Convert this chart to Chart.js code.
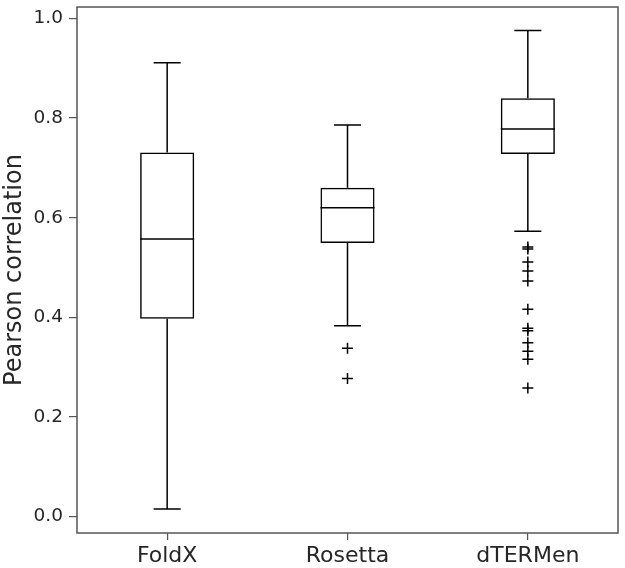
<!DOCTYPE html>
<html>
<head>
<meta charset="utf-8">
<script src="https://cdn.jsdelivr.net/npm/chart.js@4.4.1/dist/chart.umd.min.js"></script>
<style>
  html, body { margin: 0; padding: 0; background: #fff; }
  #wrap { width: 625px; height: 568px; }
</style>
</head>
<body>
<div id="wrap"><canvas id="box-chart"></canvas></div>
<script>
// data
const methods = ['FoldX', 'Rosetta', 'dTERMen'];
const whiskerLow = [0.015, 0.383, 0.573];
const q1 = [0.397, 0.549, 0.728];
const medians = [0.557, 0.620, 0.778];
const q3 = [0.731, 0.660, 0.840];
const whiskerHigh = [0.911, 0.786, 0.976];
const outliersRosetta = [0.338, 0.277];
const outliersDTERMen = [0.541, 0.537, 0.511, 0.493, 0.473, 0.416, 0.378, 0.373, 0.349, 0.332, 0.316, 0.258];
const yTicks = [0.0, 0.2, 0.4, 0.6, 0.8, 1.0];

const textColor = '#262626';
const axisColor = '#555555';

const outlierPoints = [];
outliersRosetta.forEach(v => outlierPoints.push({x: 'Rosetta', y: v}));
outliersDTERMen.forEach(v => outlierPoints.push({x: 'dTERMen', y: v}));

// whiskers, caps, medians and the frame drawn with the chart scales
const boxExtras = {
    id: 'boxExtras',
    afterDatasetsDraw(chart) {
        const c = chart.ctx;
        const xs = chart.scales.x;
        const ys = chart.scales.y;
        const bars = chart.getDatasetMeta(0).data;
        c.save();
        c.strokeStyle = '#000';
        c.lineWidth = 1.5;
        methods.forEach((m, i) => {
            const cx = xs.getPixelForValue(i);
            const half = bars[i].width / 2;
            const cap = half / 2;
            c.beginPath();
            c.moveTo(cx, ys.getPixelForValue(q3[i]));
            c.lineTo(cx, ys.getPixelForValue(whiskerHigh[i]));
            c.moveTo(cx - cap, ys.getPixelForValue(whiskerHigh[i]));
            c.lineTo(cx + cap, ys.getPixelForValue(whiskerHigh[i]));
            c.moveTo(cx, ys.getPixelForValue(q1[i]));
            c.lineTo(cx, ys.getPixelForValue(whiskerLow[i]));
            c.moveTo(cx - cap, ys.getPixelForValue(whiskerLow[i]));
            c.lineTo(cx + cap, ys.getPixelForValue(whiskerLow[i]));
            c.moveTo(cx - half, ys.getPixelForValue(medians[i]));
            c.lineTo(cx + half, ys.getPixelForValue(medians[i]));
            c.stroke();
        });
        const a = chart.chartArea;
        c.strokeStyle = axisColor;
        c.lineWidth = 1.5;
        c.strokeRect(a.left, a.top, a.right - a.left, a.bottom - a.top);
        c.restore();
    }
};

const config = {
    type: 'bar',
    data: {
        labels: methods,
        datasets: [
            {
                label: 'box',
                data: methods.map((m, i) => [q1[i], q3[i]]),
                backgroundColor: 'rgba(0,0,0,0)',
                borderColor: '#000',
                borderWidth: 1.5,
                borderSkipped: false,
                categoryPercentage: 1.0,
                barPercentage: 0.3
            },
            {
                type: 'line',
                label: 'outliers',
                data: outlierPoints,
                showLine: false,
                pointStyle: 'cross',
                pointRadius: 5.5,
                pointBorderWidth: 1.5,
                pointBorderColor: '#000',
                pointBackgroundColor: '#000'
            }
        ]
    },
    options: {
        responsive: true,
        maintainAspectRatio: false,
        animation: false,
        layout: { padding: { top: 4, right: 5, left: 0, bottom: 0 } },
        plugins: {
            legend: { display: false },
            tooltip: { enabled: false }
        },
        scales: {
            x: {
                grid: { display: true, offset: false, drawOnChartArea: false, drawTicks: true, tickLength: 7, color: axisColor, lineWidth: 1.2 },
                border: { display: false },
                ticks: { color: textColor, font: { family: 'DejaVu Sans', size: 22 }, padding: 3, maxRotation: 0 },
                afterFit(scale) {
                    scale.height = 35;
                    scale.paddingLeft = 0;
                    scale.paddingRight = 0;
                }
            },
            y: {
                min: -0.033,
                max: 1.023,
                afterBuildTicks(scale) { scale.ticks = yTicks.map(v => ({value: v})); },
                grid: { display: true, drawOnChartArea: false, drawTicks: true, tickLength: 8, color: axisColor, lineWidth: 1.2 },
                border: { display: false },
                ticks: {
                    color: textColor,
                    font: { family: 'DejaVu Sans', size: 18.5 },
                    padding: 6,
                    callback: v => v.toFixed(1)
                },
                title: {
                    display: true,
                    text: 'Pearson correlation',
                    color: textColor,
                    font: { family: 'DejaVu Sans', size: 24 },
                    padding: { top: 0, bottom: 0 }
                },
                afterFit(scale) {
                    scale.width = 77;
                    scale.paddingTop = 0;
                    scale.paddingBottom = 0;
                }
            }
        }
    },
    plugins: [boxExtras]
};

const chart = new Chart(document.getElementById('box-chart'), config);
</script>
</body>
</html>
